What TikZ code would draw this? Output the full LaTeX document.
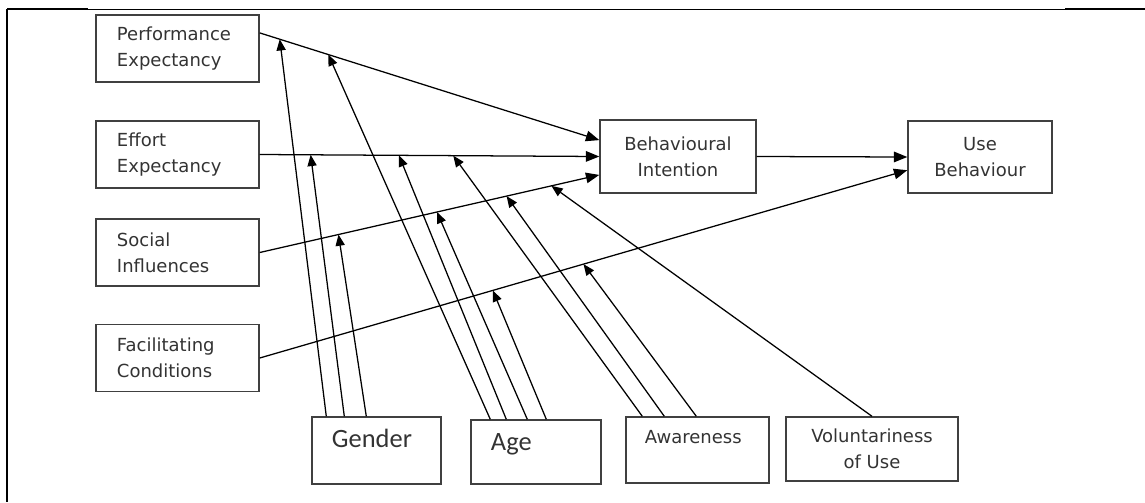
\documentclass[tikz,border=0pt]{standalone}
\usepackage{fontspec}
\setmainfont{DejaVu Sans}
\newfontfamily\calfont{Carlito}
\usetikzlibrary{arrows.meta}

\tikzset{
    kotak/.style={draw=black!75, line width=1pt, inner sep=0pt, text=black!80,
        font=\fontsize{12.8}{18.5}\selectfont},
    faktor/.style={kotak, minimum width=4.075cm, minimum height=1.675cm,
        text width=3.025cm, align=left},
    hasil/.style={kotak, align=center},
    moderator/.style={kotak, align=left, inner xsep=0.5cm},
    besar/.style={font=\calfont\fontsize{18.8}{22}\selectfont},
    link/.style={-{Triangle[length=9.5pt,width=7.5pt]}, line width=0.9pt},
    mod/.style={-{Triangle[length=8pt,width=6.5pt]}, line width=0.9pt}
}

\begin{document}
\begin{tikzpicture}[x=0.025cm, y=-0.025cm]
    \useasboundingbox (0,0) rectangle (1145,502);
    % frame of the page
    \draw[line width=0.6pt] (7,9) -- (1145,9);
    \draw[line width=1.4pt] (7,9) -- (88,9);
    \draw[line width=1.4pt] (1065,9) -- (1145,9);
    \draw[line width=1.4pt] (7,9) -- (7,502);

    \path node[faktor] (PE) at (177.5,48.5) {Performance\\Expectancy}
        node[faktor] (EE) at (177.5,154.5) {Effort\\Expectancy}
        node[faktor] (SI) at (177.5,252.5) {Social\\Influences}
        node[faktor] (FC) at (177.5,358) {Facilitating\\Conditions}
        node[hasil, minimum width=3.9cm, minimum height=1.825cm] (BI) at (678,156.5) {Behavioural\\Intention}
        node[hasil, minimum width=3.6cm, minimum height=1.8cm] (UB) at (980,157) {Use\\Behaviour}
        node[moderator, besar, text width=2.225cm, text height=0.75cm, text depth=0.925cm] (G) at (376.5,450.5) {Gender}
        node[moderator, besar, text width=2.25cm, text height=0.75cm, text depth=0.85cm] (A) at (536,452) {Age}
        node[moderator, inner xsep=0.475cm, text width=2.625cm, text height=0.65cm, text depth=1cm] (AW) at (697.5,450) {Awareness}
        node[hasil, minimum width=4.3cm, minimum height=1.6cm] (VU) at (872,449) {Voluntariness\\of Use};

    % main paths, with the points that the moderators hit
       \draw[link] ([yshift=0.39cm]PE.east) -- coordinate[pos=0.059] (pe1) coordinate[pos=0.202] (pe2) ([yshift=0.41cm]BI.west);
        \draw[link] (EE.east) -- coordinate[pos=0.15] (ee1) coordinate[pos=0.41] (ee2) coordinate[pos=0.57] (ee3) (BI.west);
        \draw[link] (SI.east) -- coordinate[pos=0.232] (si1) coordinate[pos=0.522] (si2) coordinate[pos=0.727] (si3) coordinate[pos=0.859] (si4) ([yshift=-0.46cm]BI.west);
        \draw[link] (FC.east) -- coordinate[pos=0.36] (fc1) coordinate[pos=0.5] (fc2) ([yshift=-0.33cm]UB.west);
        \draw[link] (BI.east) -- (UB.west);

    % moderators
        \draw[mod] ([xshift=0.375cm]G.north west) -- (pe1);
        \draw[mod] ([xshift=0.825cm]G.north west) -- (ee1);
        \draw[mod] ([xshift=1.375cm]G.north west) -- (si1);
        \draw[mod] ([xshift=0.5cm]A.north west) -- (pe2);
        \draw[mod] ([xshift=0.9cm]A.north west) -- (ee2);
        \draw[mod] ([xshift=1.425cm]A.north west) -- (si2);
        \draw[mod] ([xshift=1.9cm]A.north west) -- (fc1);
        \draw[mod] ([xshift=0.425cm]AW.north west) -- (ee3);
        \draw[mod] ([xshift=0.975cm]AW.north west) -- (si3);
        \draw[mod] ([xshift=1.775cm]AW.north west) -- (fc2);
        \draw[mod] (VU.north) -- (si4);
\end{tikzpicture}
\end{document}
